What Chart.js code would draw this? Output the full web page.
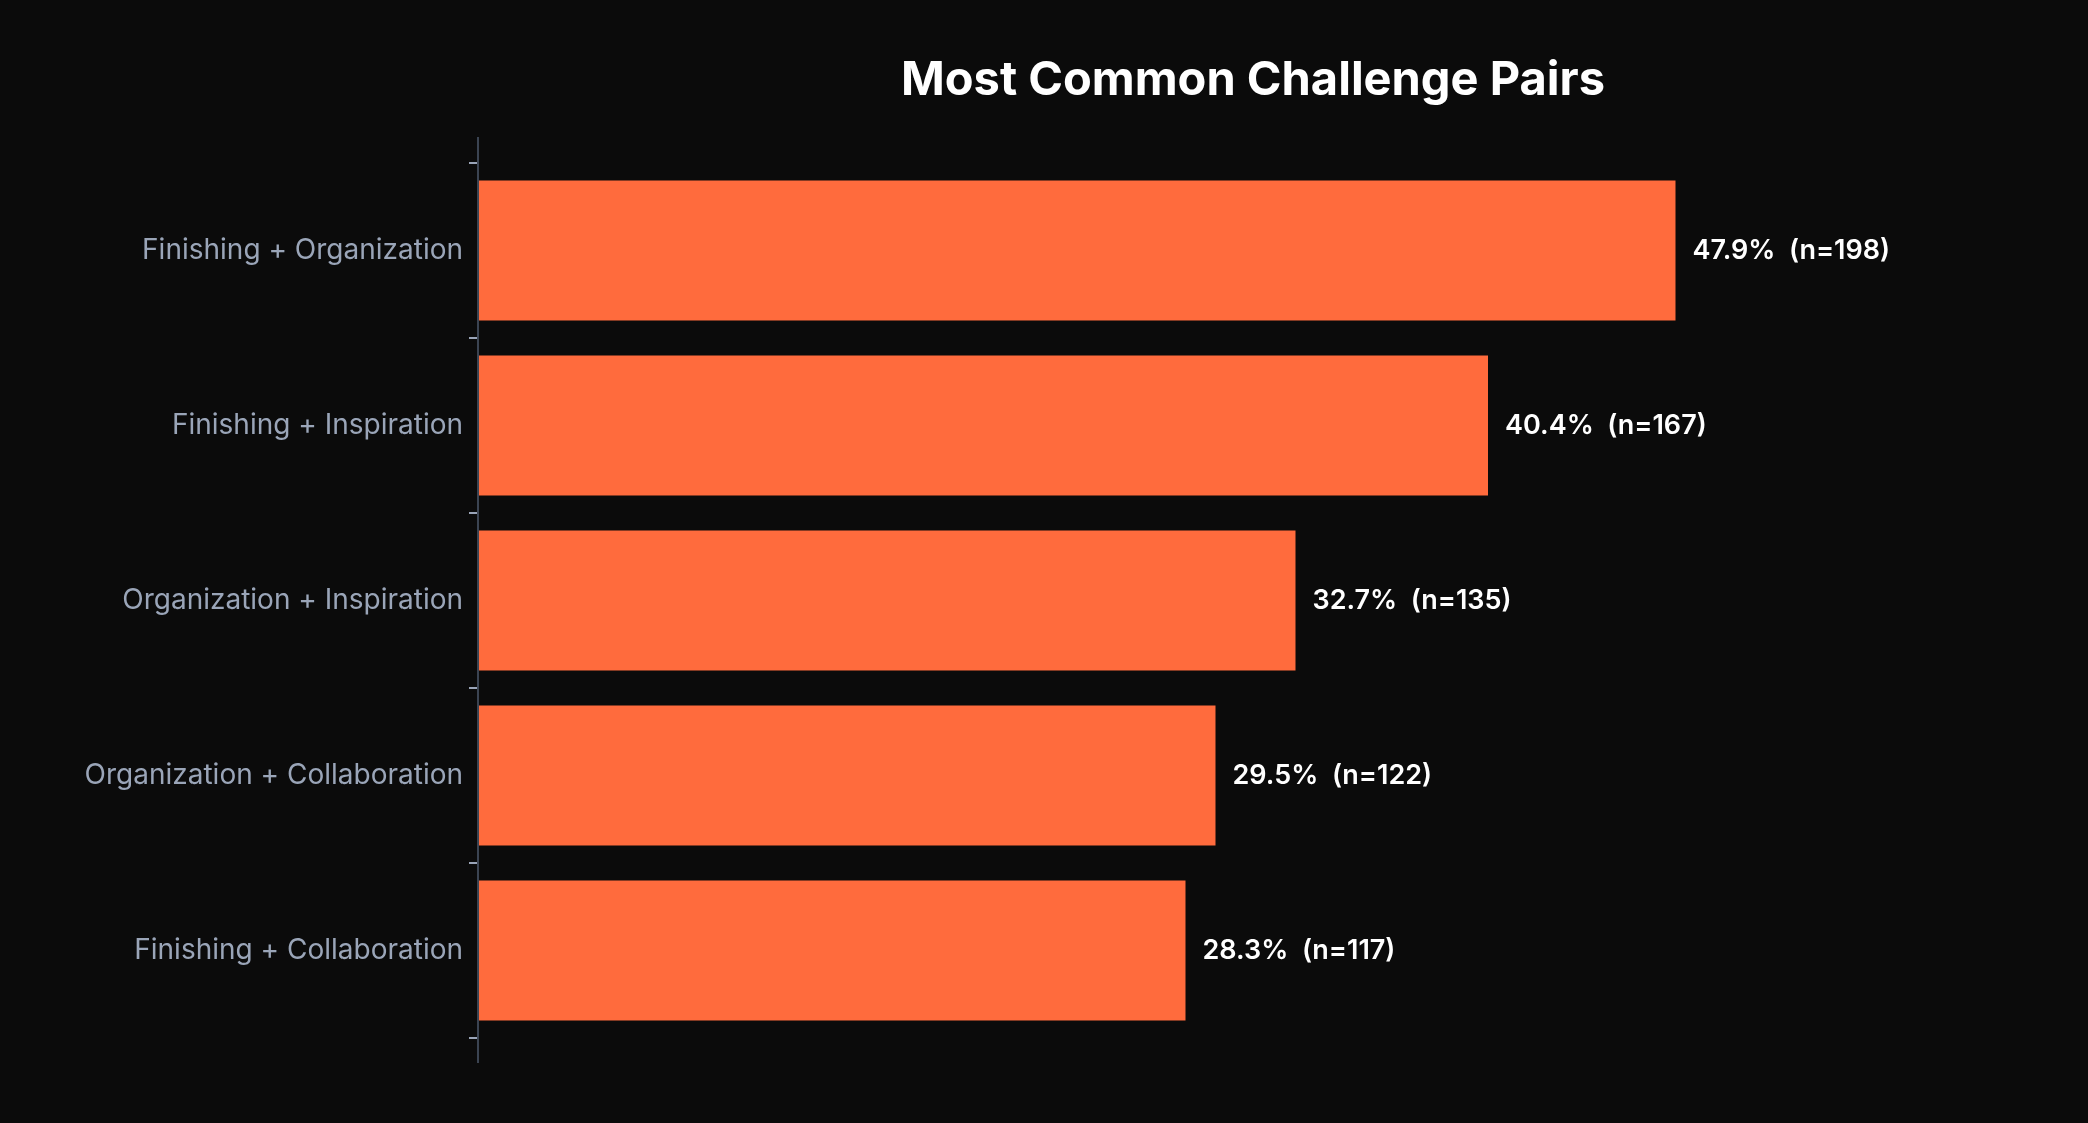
<!DOCTYPE html>
<html><head><meta charset="utf-8">
<script src="https://cdn.jsdelivr.net/npm/chart.js@4"></script>
<style>html,body{margin:0;background:#0b0b0b;}#w{width:2088px;height:1123px;}</style>
</head><body><div id="w"><canvas id="c"></canvas></div>
<script>
const categories = ["Finishing + Organization","Finishing + Inspiration","Organization + Inspiration","Organization + Collaboration","Finishing + Collaboration"];
const percents = [47.9, 40.4, 32.7, 29.5, 28.3];
const counts = [198, 167, 135, 122, 117];
const titleText = "Most Common Challenge Pairs";

const extras = {
  id:'extras',
  afterDatasetsDraw(chart){
    const ctx = chart.ctx, meta = chart.getDatasetMeta(0), a = chart.chartArea;
    ctx.save();
    ctx.fillStyle = '#ffffff';
    ctx.font = '600 27px Inter, "Noto Sans", sans-serif';
    ctx.textBaseline = 'middle';
    meta.data.forEach((b,i)=>{
      ctx.fillText(percents[i].toFixed(1)+'%  (n='+counts[i]+')', b.x+17, b.y);
    });
    ctx.font = 'bold 47px Inter, "Noto Sans", sans-serif';
    ctx.textAlign = 'center';
    ctx.fillText(titleText, (a.left+a.right)/2, 81);
    ctx.strokeStyle = '#3b4452'; ctx.lineWidth = 2;
    ctx.beginPath(); ctx.moveTo(a.left, 137); ctx.lineTo(a.left, 1063); ctx.stroke();
    ctx.restore();
  }
};

new Chart(document.getElementById('c'), {
  type:'bar',
  data:{labels:categories, datasets:[{data:percents, backgroundColor:'#ff6b3d', categoryPercentage:0.8, barPercentage:1}]},
  options:{
    indexAxis:'y', responsive:true, maintainAspectRatio:false, animation:false,
    layout:{padding:{top:163,bottom:85,left:0,right:60}},
    plugins:{legend:{display:false},tooltip:{enabled:false}},
    scales:{
      x:{display:false,min:0,max:62},
      y:{
        afterFit(s){s.width=478;},
        border:{display:false},
        grid:{drawOnChartArea:false,tickLength:9,color:'#9aa5b8',lineWidth:2},
        ticks:{color:'#9aa5b8',padding:6,font:{family:'Inter, "Noto Sans", sans-serif',size:28}}
      }
    }
  },
  plugins:[extras]
});
</script></body></html>
